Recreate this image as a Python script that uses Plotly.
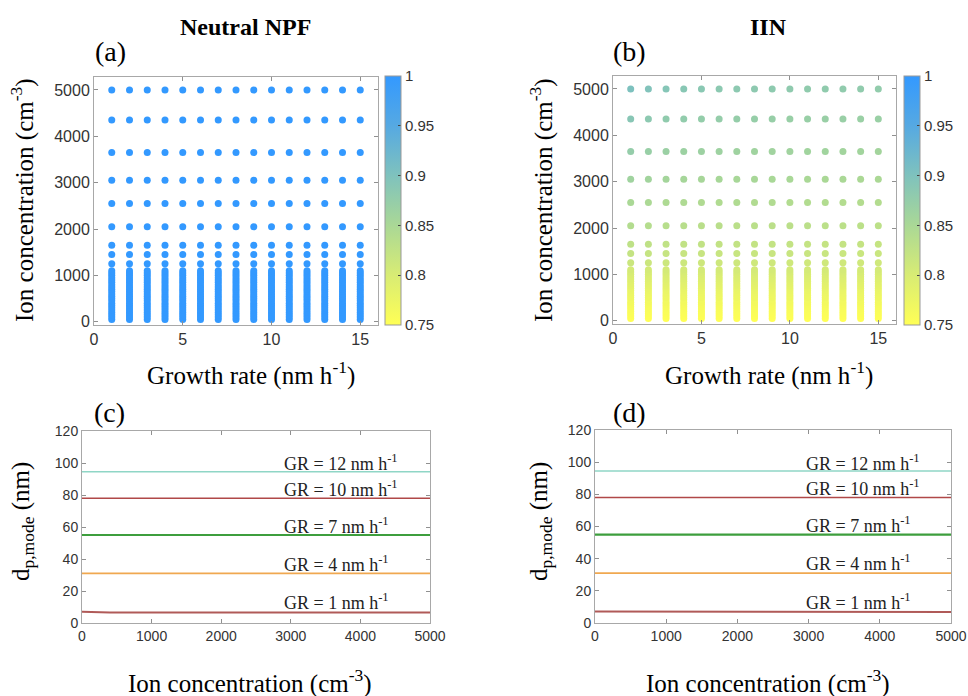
import plotly.graph_objects as go

W, H = 968, 696

# ---------------- data ----------------
growth_rate = list(range(1, 16))  # nm h-1
ion_levels = [50, 100, 150, 200, 250, 300, 350, 400, 450, 500, 550, 600, 650, 700,
              750, 800, 850, 900, 950, 1000, 1050, 1100,
              1250, 1450, 1650, 2050, 2550, 3050, 3650, 4350, 5000]

# Neutral NPF fraction (all ~1)
npf_values = [[1.0] * 15 for _ in ion_levels]

# IIN fraction; dense low-ion levels read as uniform across growth rates
iin_dense = [0.750, 0.752, 0.754, 0.756, 0.758, 0.760, 0.762, 0.765, 0.767, 0.770,
             0.772, 0.775, 0.777, 0.780, 0.783, 0.786, 0.789, 0.792, 0.795, 0.798,
             0.801, 0.804]
iin_upper = [
    [0.815, 0.814, 0.813, 0.813, 0.812, 0.812, 0.812, 0.811, 0.811, 0.811, 0.810, 0.810, 0.810, 0.810, 0.810],  # 1250
    [0.822, 0.821, 0.820, 0.819, 0.819, 0.818, 0.818, 0.818, 0.817, 0.817, 0.817, 0.817, 0.816, 0.816, 0.816],  # 1450
    [0.828, 0.827, 0.826, 0.825, 0.825, 0.824, 0.824, 0.823, 0.823, 0.823, 0.822, 0.822, 0.822, 0.822, 0.821],  # 1650
    [0.840, 0.838, 0.836, 0.835, 0.834, 0.834, 0.833, 0.833, 0.832, 0.832, 0.832, 0.831, 0.831, 0.831, 0.830],  # 2050
    [0.850, 0.848, 0.846, 0.845, 0.844, 0.843, 0.843, 0.842, 0.842, 0.841, 0.841, 0.841, 0.840, 0.840, 0.840],  # 2550
    [0.862, 0.859, 0.857, 0.855, 0.854, 0.853, 0.852, 0.852, 0.851, 0.851, 0.850, 0.850, 0.850, 0.849, 0.849],  # 3050
    [0.875, 0.871, 0.868, 0.866, 0.865, 0.864, 0.863, 0.862, 0.861, 0.861, 0.860, 0.860, 0.859, 0.859, 0.858],  # 3650
    [0.890, 0.884, 0.880, 0.878, 0.876, 0.875, 0.874, 0.873, 0.872, 0.871, 0.871, 0.870, 0.870, 0.869, 0.869],  # 4350
    [0.902, 0.897, 0.892, 0.889, 0.887, 0.885, 0.884, 0.883, 0.882, 0.881, 0.880, 0.880, 0.879, 0.879, 0.878],  # 5000
]
iin_values = [[v] * 15 for v in iin_dense] + iin_upper

cbar_ticks = [0.75, 0.8, 0.85, 0.9, 0.95, 1.0]
cbar_ticktext = ["0.75", "0.8", "0.85", "0.9", "0.95", "1"]

# mode diameter lines
ion_line = [0, 400, 1000, 2000, 3000, 4000, 5000]
gr_labels = ["GR = 1 nm h<sup>-1</sup>", "GR = 4 nm h<sup>-1</sup>", "GR = 7 nm h<sup>-1</sup>",
             "GR = 10 nm h<sup>-1</sup>", "GR = 12 nm h<sup>-1</sup>"]
dmode_c = [
    [7.0, 6.6, 6.6, 6.6, 6.6, 6.6, 6.6],
    [31.0, 31.0, 31.0, 31.0, 31.0, 31.0, 31.0],
    [55.0, 55.0, 55.0, 55.0, 55.0, 55.0, 55.0],
    [78.0, 78.0, 78.0, 78.0, 78.0, 78.0, 78.0],
    [94.5, 94.5, 94.5, 94.5, 94.5, 94.5, 94.5],
]
dmode_d = [
    [7.2, 7.2, 7.0, 6.8, 6.8, 6.8, 6.8],
    [31.0, 31.0, 31.0, 31.0, 31.0, 31.0, 31.0],
    [55.0, 55.0, 55.0, 55.0, 55.0, 55.0, 55.0],
    [78.0, 78.0, 78.0, 78.0, 78.0, 78.0, 78.0],
    [94.5, 94.5, 94.5, 94.5, 94.5, 94.5, 94.5],
]
label_y = [13.5, 37.5, 61.0, 84.0, 100.0]

# ---------------- styles ----------------
line_colors = ["#b05a58", "#f0a850", "#3d9e3d", "#b04848", "#8fd6c6"]
line_widths = [2, 1.6, 2.2, 1.6, 1.4]
colorscale = [[0.0, "#ffff55"], [0.2, "#d8ec74"], [0.4, "#aad896"], [0.6, "#7fc2bd"],
              [0.8, "#56a9e2"], [1.0, "#3399ff"]]
SERIF = "Liberation Serif, Times New Roman, serif"
SANS = "Liberation Sans, Arial, sans-serif"
AXC = "#a8a8a8"
TXT = "#333333"


def px(x):
    return x / W


def py(y):
    return 1 - y / H


fig = go.Figure()

# scatter panels
xs, ys = [], []
for lv in ion_levels:
    for g in growth_rate:
        xs.append(g)
        ys.append(lv)


def flat(mat):
    return [v for row in mat for v in row]


for vals, xa, ya, cbx in [(npf_values, "x", "y", 385), (iin_values, "x2", "y2", 904)]:
    fig.add_trace(go.Scatter(
        x=xs, y=ys, mode="markers", xaxis=xa, yaxis=ya, showlegend=False,
        marker=dict(size=7, color=flat(vals), colorscale=colorscale, cmin=0.75, cmax=1.0,
                    line=dict(width=0),
                    colorbar=dict(x=px(cbx), xanchor="left", xpad=0, ypad=0,
                                  y=py(76), yanchor="top", len=249, lenmode="pixels",
                                  thickness=16, outlinecolor="#999999", outlinewidth=1,
                                  tickvals=cbar_ticks, ticktext=cbar_ticktext,
                                  ticks="inside", ticklen=3, tickcolor="#444444",
                                  tickfont=dict(family=SANS, size=15, color=TXT))),
    ))

# line panels
for dm, xa, ya in [(dmode_c, "x3", "y3"), (dmode_d, "x4", "y4")]:
    for i, series in enumerate(dm):
        fig.add_trace(go.Scatter(
            x=ion_line, y=series, mode="lines", xaxis=xa, yaxis=ya, showlegend=False,
            line=dict(color=line_colors[i], width=line_widths[i])))

common_ax = dict(showline=True, linecolor=AXC, linewidth=1, mirror="ticks",
                 ticks="inside", ticklen=4, tickcolor="#909090", showgrid=False,
                 zeroline=False, automargin=False)

top_tick = dict(family=SANS, size=16, color=TXT)
bot_tick = dict(family=SANS, size=14, color=TXT)

fig.update_layout(
    width=W, height=H, margin=dict(l=0, r=0, t=0, b=0),
    paper_bgcolor="white", plot_bgcolor="white",
    xaxis=dict(domain=[px(94), px(378)], range=[0, 16], tickvals=[0, 5, 10, 15],
               anchor="y", tickfont=top_tick, **common_ax),
    yaxis=dict(domain=[py(325), py(77)], range=[-71, 5280], tickvals=[0, 1000, 2000, 3000, 4000, 5000],
               anchor="x", tickfont=top_tick, **common_ax),
    xaxis2=dict(domain=[px(613), px(896)], range=[0, 16], tickvals=[0, 5, 10, 15],
                anchor="y2", tickfont=top_tick, **common_ax),
    yaxis2=dict(domain=[py(324), py(76)], range=[-71, 5280], tickvals=[0, 1000, 2000, 3000, 4000, 5000],
                anchor="x2", tickfont=top_tick, **common_ax),
    xaxis3=dict(domain=[px(82), px(430)], range=[0, 5000], tickvals=[0, 1000, 2000, 3000, 4000, 5000],
                anchor="y3", tickfont=bot_tick, **common_ax),
    yaxis3=dict(domain=[py(623), py(431)], range=[0, 120], tickvals=[0, 20, 40, 60, 80, 100, 120],
                anchor="x3", tickfont=bot_tick, **common_ax),
    xaxis4=dict(domain=[px(595), px(951)], range=[0, 5000], tickvals=[0, 1000, 2000, 3000, 4000, 5000],
                anchor="y4", tickfont=bot_tick, **common_ax),
    yaxis4=dict(domain=[py(623), py(430)], range=[0, 120], tickvals=[0, 20, 40, 60, 80, 100, 120],
                anchor="x4", tickfont=bot_tick, **common_ax),
)

ann = []


def A(text, x, y, size, xanchor="center", angle=0, bold=False):
    t = f"<b>{text}</b>" if bold else text
    ann.append(dict(text=t, x=px(x), y=py(y), xref="paper", yref="paper", showarrow=False,
                    xanchor=xanchor, yanchor="middle", textangle=angle,
                    font=dict(family=SERIF, size=size, color="black")))


# titles
A("Neutral NPF", 245, 27, 24, bold=True)
A("IIN", 768, 27, 24, bold=True)
# panel letters
A("(a)", 93, 51, 28, xanchor="left")
A("(b)", 611, 51, 28, xanchor="left")
A("(c)", 92, 413, 28, xanchor="left")
A("(d)", 611, 413, 28, xanchor="left")
# axis titles
A("Ion concentration (cm<sup>-3</sup>)", 22, 200, 25, angle=-90)
A("Ion concentration (cm<sup>-3</sup>)", 541, 200, 25, angle=-90)
A("Growth rate (nm h<sup>-1</sup>)", 251, 373, 25)
A("Growth rate (nm h<sup>-1</sup>)", 769, 373, 25)
A("d<sub>p,mode</sub> (nm)", 22, 522, 25, angle=-90)
A("d<sub>p,mode</sub> (nm)", 540, 522, 25, angle=-90)
A("Ion concentration (cm<sup>-3</sup>)", 250, 681, 25)
A("Ion concentration (cm<sup>-3</sup>)", 768, 681, 25)

# line labels
for xr, yr, lx in [("x3", "y3", 2880), ("x4", "y4", 2930)]:
    for lab, ly in zip(gr_labels, label_y):
        ann.append(dict(text=lab, x=lx, y=ly, xref=xr, yref=yr, showarrow=False,
                        xanchor="left", yanchor="middle",
                        font=dict(family=SERIF, size=18, color="#222222")))

fig.update_layout(annotations=ann)
fig.write_html("out.html")
